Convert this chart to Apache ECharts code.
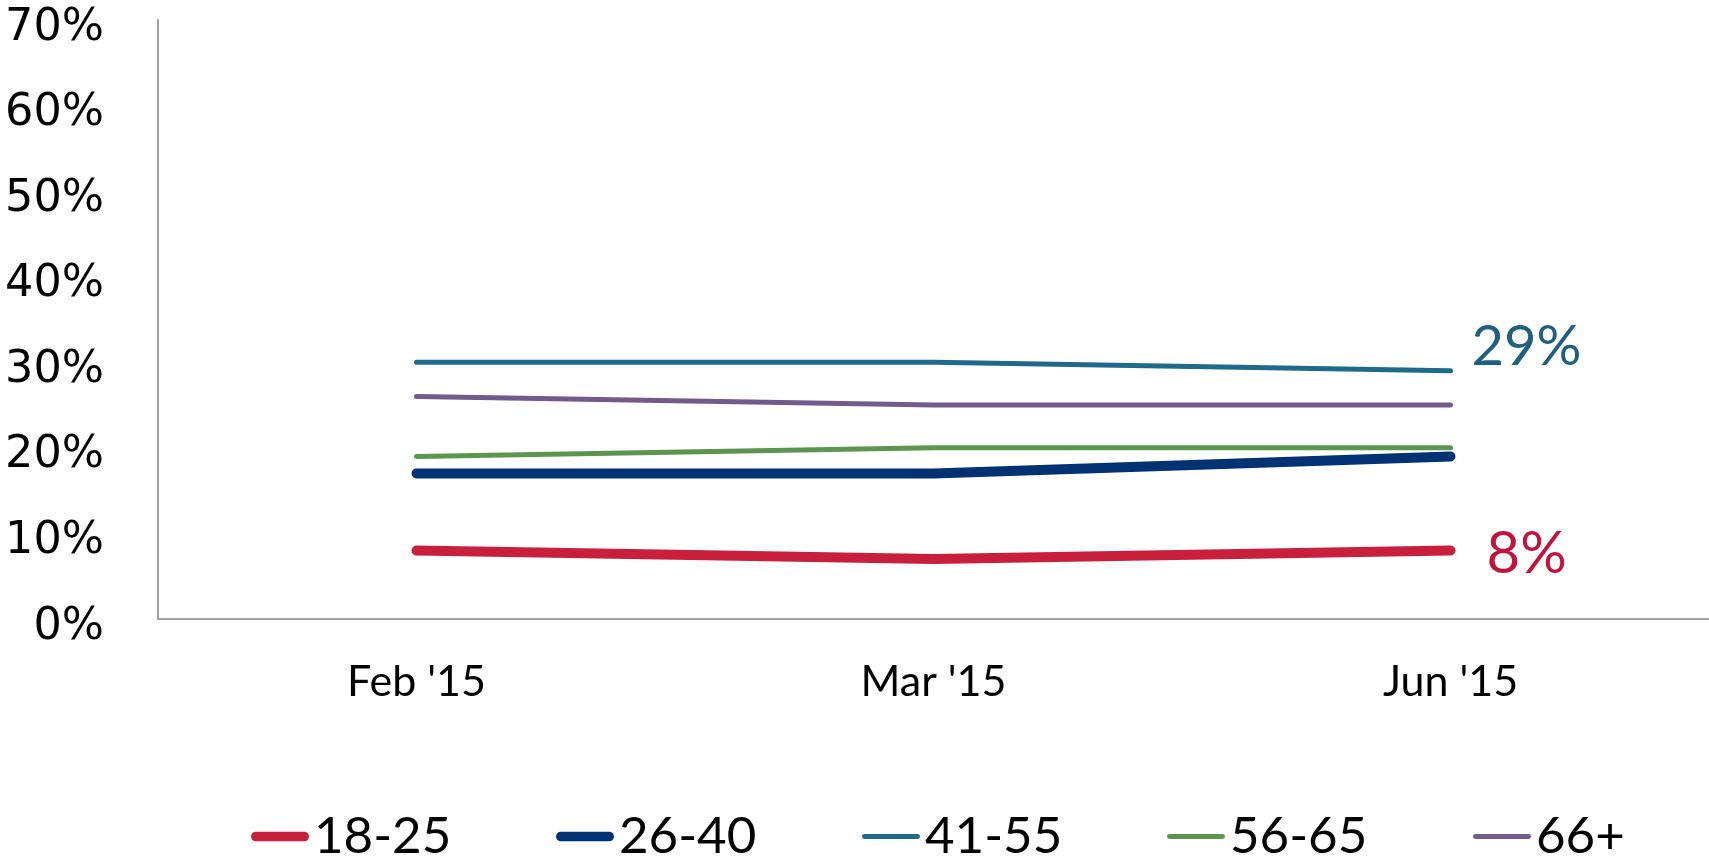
<!DOCTYPE html>
<html>
<head>
<meta charset="utf-8">
<title>Age groups, Feb–Jun 2015</title>
<script src="https://cdn.jsdelivr.net/npm/echarts@6/dist/echarts.min.js"></script>
<style>
  html, body { margin: 0; padding: 0; background: #ffffff; }
  #chart { width: 1709px; height: 859px; }
</style>
</head>
<body>
<div id="chart"></div>
<script>
// Survey months
const months = ["Feb '15", "Mar '15", "Jun '15"];

// Share of respondents per age group (%)
const age18to25 = [8, 7, 8];
const age26to40 = [17, 17, 19];
const age41to55 = [30, 30, 29];
const age56to65 = [19, 20, 20];
const age66plus = [26, 25, 25];

// Value axis range
const yMin = 0;
const yMax = 70;
const yStep = 10;

const groupNames = ['18-25', '26-40', '41-55', '56-65', '66+'];
const colors = ['#C8203C', '#003173', '#1F6A8B', '#5C964E', '#735A8C'];

// Rounded-bar legend keys: thick for the two youngest groups, thin for the rest
const thickIcon = 'path://M5,0 H55 A5,5 0 0 1 55,10 H5 A5,5 0 0 1 5,0 Z';
const thinIcon = 'path://M2.5,0 H57.5 A2.5,2.5 0 0 1 57.5,5 H2.5 A2.5,2.5 0 0 1 2.5,0 Z';

function lineSeries(name, data, color, width, endLabel) {
  const s = {
    name: name,
    type: 'line',
    data: data,
    showSymbol: false,
    symbol: 'none',
    lineStyle: { color: color, width: width, cap: 'round', join: 'round' },
    itemStyle: { color: color },
    emphasis: { disabled: true },
    animation: false
  };
  if (endLabel) {
    s.endLabel = Object.assign({ show: true, formatter: '{c}%', distance: 0 }, endLabel);
  }
  return s;
}

// One legend block per group so the keys sit at an even pitch
const legendLefts = [246, 551, 857, 1162, 1468];
const legends = groupNames.map(function (n, i) {
  return {
    left: legendLefts[i],
    top: 806,
    itemWidth: 58,
    itemHeight: 10,
    itemGap: 0,
    symbolKeepAspect: true,
    selectedMode: false,
    itemStyle: { borderWidth: 0 },
    textStyle: { fontFamily: 'Lato', fontSize: 51, color: '#000000' },
    data: [{ name: n, icon: i < 2 ? thickIcon : thinIcon }]
  };
});

const chart = echarts.init(document.getElementById('chart'), null, { renderer: 'canvas' });

chart.setOption({
  backgroundColor: '#ffffff',
  animation: false,
  grid: { left: 158, right: 0, top: 20, bottom: 240, containLabel: false },
  legend: legends,
  xAxis: {
    type: 'category',
    data: months,
    boundaryGap: true,
    axisLine: { show: true, lineStyle: { color: '#A0A0A0', width: 2 } },
    axisTick: { show: false },
    axisLabel: {
      margin: 42,
      fontFamily: 'Lato',
      fontSize: 43,
      color: '#000000'
    },
    splitLine: { show: false }
  },
  yAxis: {
    type: 'value',
    min: yMin,
    max: yMax,
    interval: yStep,
    axisLine: { show: true, lineStyle: { color: '#A0A0A0', width: 2 } },
    axisTick: { show: false },
    splitLine: { show: false },
    axisLabel: {
      formatter: '{t|{value}%}',
      margin: 54,
      rich: {
        t: {
          fontFamily: 'DejaVu Sans',
          fontSize: 44.5,
          color: '#000000',
          padding: [16, 0, 0, 0]
        }
      }
    }
  },
  series: [
    lineSeries(groupNames[0], age18to25, colors[0], 10,
      { offset: [36, 4], fontFamily: 'Lato', fontSize: 58, color: '#C0143C' }),
    lineSeries(groupNames[1], age26to40, colors[1], 10, null),
    lineSeries(groupNames[2], age41to55, colors[2], 5,
      { offset: [21, -24], fontFamily: 'Lato', fontSize: 56, color: '#1F5F80' }),
    lineSeries(groupNames[3], age56to65, colors[3], 5, null),
    lineSeries(groupNames[4], age66plus, colors[4], 5, null)
  ]
});
</script>
</body>
</html>
